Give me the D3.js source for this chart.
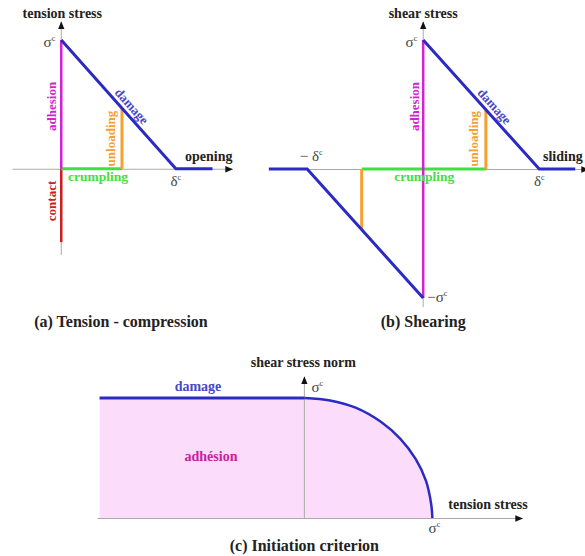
<!DOCTYPE html>
<html><head><meta charset="utf-8">
<script src="https://cdn.jsdelivr.net/npm/d3@7"></script>
<style>
body{margin:0;background:#fff;}
</style>
</head><body>
<svg id="c" width="585" height="556"></svg>
<script>
// ---- data (stress/displacement in units of sigma^c, delta^c) ----
const aDamage    = [[0,1],[1,0],[1.32,0]];
const aAdhesion  = [[0,0],[0,1]];
const aUnloading = [[0.53,0],[0.53,0.47]];
const aCrumpling = [[0,0],[0.53,0]];
const aContact   = [[0,0],[0,-0.57]];

const bDamagePos  = [[0,1],[1,0],[1.31,0]];
const bDamageNeg  = [[-1.33,0],[-1,0],[0,-1]];
const bAdhesion   = [[0,-1],[0,1]];
const bUnloadPos  = [[0.54,0],[0.54,0.46]];
const bUnloadNeg  = [[-0.53,0],[-0.53,-0.47]];
const bCrumpling  = [[-0.53,0],[0.54,0]];

const cCriterion = [[-1.6,1],[0,1],[0.2,0.98],[0.4,0.92],[0.6,0.8],[0.75,0.66],[0.87,0.49],[0.95,0.31],[0.99,0.12],[1,0]];

const captions = ["(a) Tension - compression","(b) Shearing","(c) Initiation criterion"];

// ---- colours ----
const BLUE="#2b2bc4", MAG="#d024d0", ORA="#f5a030", GRN="#3fe03f", RED="#cc2020", AX="#aaa";
const FONT="Liberation Serif";

const svg = d3.select("#c");
const defs = svg.append("defs");
defs.append("marker").attr("id","arr").attr("viewBox","0 0 10 10").attr("refX",9).attr("refY",5)
  .attr("markerWidth",8).attr("markerHeight",8).attr("markerUnits","userSpaceOnUse").attr("orient","auto")
  .append("path").attr("d","M0,1 L10,5 L0,9 Z").attr("fill","#111");

function axes(g,x,y){
  const ax = g.append("g").attr("transform",`translate(0,${y(0)})`)
    .call(d3.axisBottom(x).tickValues([]).tickSizeOuter(0));
  ax.select(".domain").attr("stroke",AX).attr("stroke-width",1).attr("marker-end","url(#arr)");
  const ay = g.append("g").attr("transform",`translate(${x(0)},0)`)
    .call(d3.axisLeft(y).tickValues([]).tickSizeOuter(0));
  const r = y.range();
  ay.select(".domain").attr("d",`M0,${r[0]}V${r[1]}`).attr("stroke",AX).attr("stroke-width",1).attr("marker-end","url(#arr)");
}
function seg(g,x,y,data,color,w){
  g.append("path").datum(data)
   .attr("d",d3.line().x(d=>x(d[0])).y(d=>y(d[1])))
   .attr("fill","none").attr("stroke",color).attr("stroke-width",w).attr("stroke-linejoin","miter");
}
function txt(g,s,x,y,opt={}){
  const t=g.append("text").attr("font-family",FONT).attr("font-weight","bold").attr("font-size",opt.size||14)
    .attr("x",x).attr("y",y)
    .attr("text-anchor",opt.anchor||"middle").attr("fill",opt.color||"#222").text(s);
  if(opt.rot!==undefined) t.attr("transform",`rotate(${opt.rot},${x},${y})`);
  return t;
}
function sym(g,base,x,y,anchor="middle",pre=""){
  const t=g.append("text").attr("font-family",FONT).attr("font-size",15).attr("fill","#444")
    .attr("x",x).attr("y",y).attr("text-anchor",anchor);
  if(pre) t.append("tspan").text(pre);
  t.append("tspan").text(base);
  t.append("tspan").attr("dy",-6).attr("font-size",8).text("c");
  return t;
}

// ---------- panel (a) ----------
{
  const g=svg.append("g");
  const x=d3.scaleLinear().domain([-0.43,1.49]).range([12,232]);
  const y=d3.scaleLinear().domain([-0.67,1.14]).range([255,22]);
  axes(g,x,y);
  seg(g,x,y,aContact,RED,2.5);
  seg(g,x,y,aCrumpling,GRN,3);
  seg(g,x,y,aUnloading,ORA,3);
  seg(g,x,y,aAdhesion,MAG,2.5);
  seg(g,x,y,aDamage,BLUE,3);
  txt(g,"tension stress",x(0)+1,18);
  sym(g,"σ",x(0)-6,47,"end");
  txt(g,"adhesion",x(0)-5,y(0.5)+2,{rot:-90,color:MAG,size:13});
  txt(g,"damage",x(0.56)+3,y(0.44)-3,{rot:48.3,color:"#4848c8",size:13});
  txt(g,"unloading",x(0.53)-7,y(0.25)+2,{rot:-90,color:ORA,size:13});
  txt(g,"opening",185,161,{anchor:"start"});
  txt(g,"crumpling",x(0.32),181,{color:GRN,size:13.5});
  sym(g,"δ",x(1),186);
  txt(g,"contact",x(0)-5,y(-0.25),{rot:-90,color:RED,size:13});
  txt(g,captions[0],121,327,{size:16});
}

// ---------- panel (b) ----------
{
  const g=svg.append("g");
  const x=d3.scaleLinear().domain([-1.32,1.42]).range([270,588]);
  const y=d3.scaleLinear().domain([-1.07,1.14]).range([307,22]);
  axes(g,x,y);
  seg(g,x,y,bCrumpling,GRN,3);
  seg(g,x,y,bUnloadPos,ORA,3);
  seg(g,x,y,bUnloadNeg,ORA,3);
  seg(g,x,y,bAdhesion,MAG,2.5);
  seg(g,x,y,bDamagePos,BLUE,3);
  seg(g,x,y,bDamageNeg,BLUE,3);
  txt(g,"shear stress",x(0),18);
  sym(g,"σ",x(0)-6,47,"end");
  txt(g,"adhesion",x(0)-4,y(0.5)+2,{rot:-90,color:MAG,size:13});
  txt(g,"damage",x(0.56)+3,y(0.44)-3,{rot:48.1,color:"#4848c8",size:13});
  txt(g,"unloading",x(0.54)-8,y(0.25)+2,{rot:-90,color:ORA,size:13});
  txt(g,"sliding",543,161,{anchor:"start"});
  txt(g,"crumpling",x(0.01),181,{color:GRN,size:13.5});
  sym(g,"δ",x(1),186);
  sym(g,"δ",x(-1)+4,161,"middle","− ");
  sym(g,"σ",x(0)+4,302,"start","−");
  txt(g,captions[1],x(0),327,{size:16});
}

// ---------- panel (c) ----------
{
  const g=svg.append("g");
  const x=d3.scaleLinear().domain([-1.62,1.70]).range([97,522]);
  const y=d3.scaleLinear().domain([0,1.175]).range([518,377]);
  const lineGen=d3.line().x(d=>x(d[0])).y(d=>y(d[1])).curve(d3.curveCatmullRom.alpha(0.5));
  const tail=cCriterion.slice(1);
  const areaPath = `M${x(cCriterion[0][0])},${y(0)}L${x(cCriterion[0][0])},${y(1)}L`+lineGen(tail).slice(1)+`Z`;
  g.append("path").attr("d",areaPath).attr("fill","#fcdcfb").attr("stroke","none");
  axes(g,x,y);
  g.append("path").datum(cCriterion.slice(0,2)).attr("d",d3.line().x(d=>x(d[0])).y(d=>y(d[1])))
    .attr("fill","none").attr("stroke",BLUE).attr("stroke-width",3);
  g.append("path").attr("d",lineGen(tail)).attr("fill","none").attr("stroke",BLUE).attr("stroke-width",2.5);
  txt(g,"shear stress norm",x(0)-1,367);
  txt(g,"damage",198,391,{color:"#4848c8"});
  sym(g,"σ",x(0)+7,392,"start");
  txt(g,"adhésion",211,461,{color:"#c8209a"});
  txt(g,"tension stress",488,509);
  sym(g,"σ",x(1)+2,533);
  txt(g,captions[2],x(0),551,{size:16});
}
</script>
</body></html>
